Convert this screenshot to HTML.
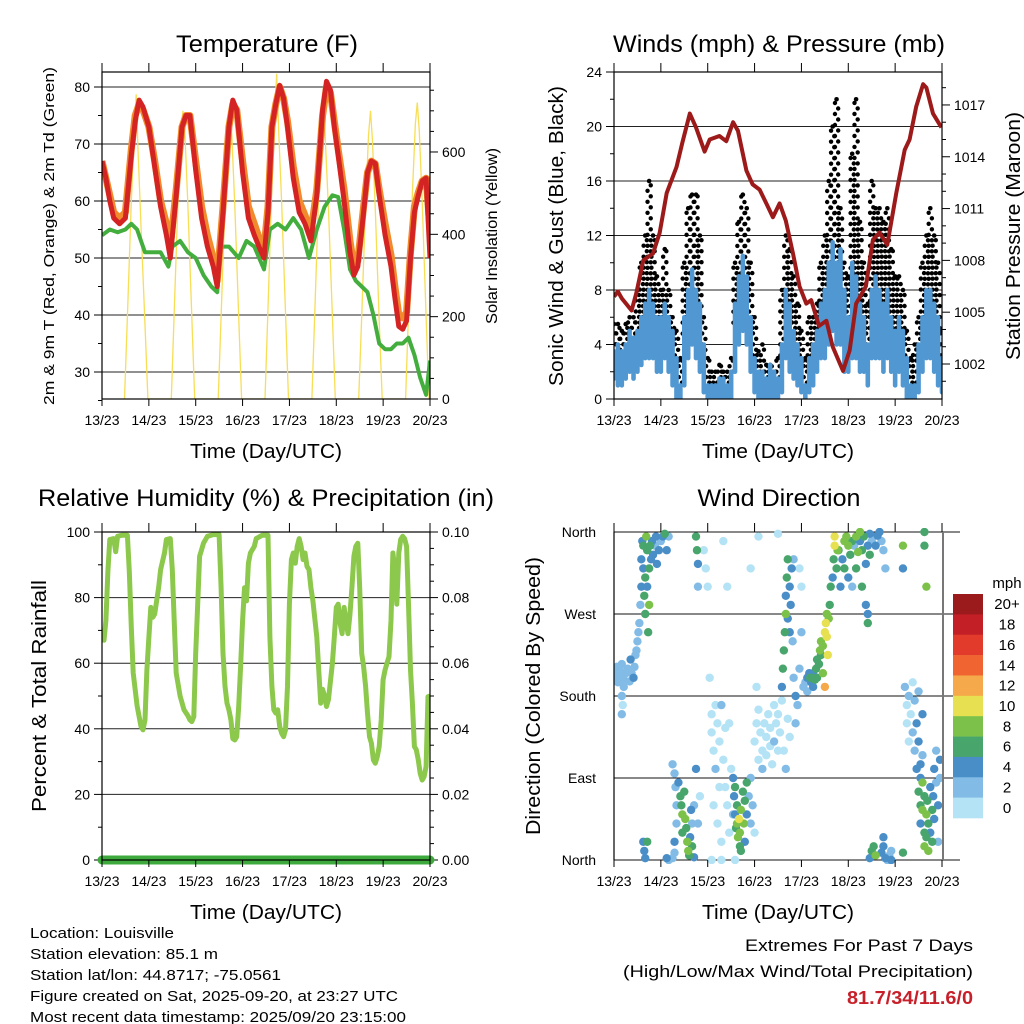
<!DOCTYPE html>
<html><head><meta charset="utf-8"><style>
html,body{margin:0;padding:0;background:#fff;}
svg{display:block;font-family:"Liberation Sans",Arial,sans-serif;}
</style></head><body>
<svg id="chart" width="1024" height="1024" viewBox="0 0 1024 1024" xmlns="http://www.w3.org/2000/svg">
<defs>
<clipPath id="c1"><rect x="102" y="72" width="328" height="327"/></clipPath>
<clipPath id="c2"><rect x="614" y="72" width="328" height="327"/></clipPath>
<clipPath id="c3"><rect x="102" y="532" width="328" height="334"/></clipPath>
<clipPath id="c4"><rect x="614" y="528" width="330" height="336"/></clipPath>
</defs>
<g id="p1"></g>
<g id="p2"></g>
<g id="p3"></g>
<g id="p4"></g>
<g id="txt">
<text x="267" y="52" font-size="24" text-anchor="middle" textLength="182" lengthAdjust="spacingAndGlyphs">Temperature (F)</text>
<text x="779" y="52" font-size="24" text-anchor="middle" textLength="332" lengthAdjust="spacingAndGlyphs">Winds (mph) &amp; Pressure (mb)</text>
<text x="266" y="506" font-size="24" text-anchor="middle" textLength="456" lengthAdjust="spacingAndGlyphs">Relative Humidity (%) &amp; Precipitation (in)</text>
<text x="779" y="506" font-size="24" text-anchor="middle" textLength="163" lengthAdjust="spacingAndGlyphs">Wind Direction</text>
<text x="266" y="458" font-size="20" text-anchor="middle" textLength="152" lengthAdjust="spacingAndGlyphs">Time (Day/UTC)</text>
<text x="778" y="458" font-size="20" text-anchor="middle" textLength="152" lengthAdjust="spacingAndGlyphs">Time (Day/UTC)</text>
<text x="266" y="919" font-size="20" text-anchor="middle" textLength="152" lengthAdjust="spacingAndGlyphs">Time (Day/UTC)</text>
<text x="778" y="919" font-size="20" text-anchor="middle" textLength="152" lengthAdjust="spacingAndGlyphs">Time (Day/UTC)</text>
<text transform="translate(54,236) rotate(-90)" font-size="15" text-anchor="middle" textLength="338" lengthAdjust="spacingAndGlyphs">2m &amp; 9m T (Red, Orange) &amp; 2m Td (Green)</text>
<text transform="translate(497,236) rotate(-90)" font-size="16" text-anchor="middle" textLength="176" lengthAdjust="spacingAndGlyphs">Solar Insolation (Yellow)</text>
<text transform="translate(563,236) rotate(-90)" font-size="20" text-anchor="middle" textLength="300" lengthAdjust="spacingAndGlyphs">Sonic Wind &amp; Gust (Blue, Black)</text>
<text transform="translate(1020,236) rotate(-90)" font-size="20" text-anchor="middle" textLength="248" lengthAdjust="spacingAndGlyphs">Station Pressure (Maroon)</text>
<text transform="translate(46,696) rotate(-90)" font-size="20" text-anchor="middle" textLength="232" lengthAdjust="spacingAndGlyphs">Percent &amp; Total Rainfall</text>
<text transform="translate(540,696) rotate(-90)" font-size="20" text-anchor="middle" textLength="278" lengthAdjust="spacingAndGlyphs">Direction (Colored By Speed)</text>
<g font-size="15">
<text x="30" y="938" textLength="144" lengthAdjust="spacingAndGlyphs">Location: Louisville</text>
<text x="30" y="959" textLength="188" lengthAdjust="spacingAndGlyphs">Station elevation: 85.1 m</text>
<text x="30" y="980" textLength="251" lengthAdjust="spacingAndGlyphs">Station lat/lon: 44.8717; -75.0561</text>
<text x="30" y="1001" textLength="368" lengthAdjust="spacingAndGlyphs">Figure created on Sat, 2025-09-20, at 23:27 UTC</text>
<text x="30" y="1022" textLength="376" lengthAdjust="spacingAndGlyphs">Most recent data timestamp: 2025/09/20 23:15:00</text>
</g>
<text x="973" y="951" font-size="17" text-anchor="end" textLength="228" lengthAdjust="spacingAndGlyphs">Extremes For Past 7 Days</text>
<text x="973" y="977" font-size="17" text-anchor="end" textLength="350" lengthAdjust="spacingAndGlyphs">(High/Low/Max Wind/Total Precipitation)</text>
<text x="973" y="1004" font-size="18" font-weight="bold" fill="#c8202a" text-anchor="end" textLength="126" lengthAdjust="spacingAndGlyphs">81.7/34/11.6/0</text>
</g>
</svg>
<script>
// ---------- data ----------
const dayLabels = ["13/23","14/23","15/23","16/23","17/23","18/23","19/23","20/23"];
const tHours = [0,2,4,6,9,12,15,17,19,21,24,27,30,33,35,38,41,43,45,48,51,54,57,59,62,65,67,69,72,75,78,81,83,85,87,89,91,93,95,98,101,104,107,110,113,115,117,119,121,124,127,129,131,134,136,138,140,142,145,148,150,152,154,156,158,160,162,164,166,168];
const tempRed = [67,64,60,57,56,57,68,74,77.7,76.5,73,66,59,54,50,61,73,75,75,65.4,57,52,48.5,45,58,73,77.7,76,65,57,54,51.5,50,58,73,77,80.3,78,73,64,58,56,53,61,76,81,79.5,73,68,60,51,47,48.5,58,65,67,66.6,61,54,48.5,43,38,37.5,39,50,58,61,63.5,64,50];
const tempOrange = [67,64,61,58,57,58,69,75,77,76,73,67,60,56,52,62,73,75,75,67,59,54,50,46,59,73,77,76,67,59,56,53,51.5,59,73,77,80,78,74,66,60,57.5,54.5,62,75,80,79,74,69,62,53,48.5,49.5,59,65,67,66.5,62,56,50.5,45,40,39.5,40.5,51,59,61.5,63.5,64,55];
const tdHours = [0,4,8,12,15,18,20,22,26,30,34,36,40,44,48,52,56,59,61,65,70,74,78,83,86,90,94,98,102,106,110,114,118,121,124,127,130,133,136,139,142,145,148,151,154,157,160,163,166,168];
const dewpoint = [54,55,54.5,55,56,55,53,51,51,51,48.5,52,53,51,50,47,45,44,52,52,50,53,52,48,55,56,55,57,55,50,55,59,61,60.7,55,48,46,45,44,40,35,34,34,35,35,36,33,29,26,32];
const solarHours = [11.5,13,15,16.5,17.5,18.5,20,22,23.5, 35.5,37,39,40.5,41.5,42.5,44,46,47.5, 59.5,61,63,64.5,65.5,66.5,68,70,71.5, 83.5,85,87,88.5,89.5,90.5,92,94,95.5, 107.5,109,111,112.5,113.5,114.5,116,118,119.5, 131.5,133,135,136.5,137.5,138.5,140,142,143.5, 155.5,157,159,160.5,161.5,162.5,164,166,167.5];
const solarVals = [0,200,480,650,740,600,420,180,0, 0,210,490,660,700,640,470,200,0, 0,200,480,650,700,640,470,200,0, 0,220,520,700,790,650,480,210,0, 0,210,500,690,760,620,460,200,0, 0,200,470,640,700,630,460,190,0, 0,210,500,670,720,650,480,200,0];
const windHi = [3.5,4,3.5,4,5,4.5,5,6,7,8, 7,6,6,7,6,5,3,1,6,8, 9.5,8,7,4,1,1,1,1.5,1.5,1, 2,7,9,10.5,9,6,3,2,2,1.5, 2.5,2,1.5,4,8,7,5,4,3,1, 3,4,5,7,8,10,11.5,10,11,8, 6,10,9,7,6,4,8,9,8,7, 8,6,5,6,5,3,1,1,4,6, 8,8,7,6,3];
const windLo = [1.5,1,1,1.5,2,1.5,2,2.5,3,3, 3,2,2,3,2,1,0,0,1,3, 4,3,2,0.5,0,0,0,0,0,0, 0,2,4,5,4,2,0.5,0,0,0, 0,0,0,0.5,3,2,1.5,1,0.5,0, 0.5,1,2,3,3,4,5,4,4,2, 2,3,3,2,2,1,3,3,3,2, 3,2,1,2,1,0,0,0,0.5,2, 3,3,2,1,0.5];
const gustHi = [5.5,5.5,5,5.5,6,6,8,10,12,16, 12,9,8,11,8,6,5,3,10,14, 15,15,12,6,3,2,2,2.5,2,2, 3,10,13,15,14,10,6,3.5,4,2.5, 2.5,2,3,8,12,11,9,7,5,3, 6,6,7,10,12,16,20,22,14,10, 9,18,22,13,10,7,16,14,14,13, 14,11,9,9,8,5,3,4,6,10, 12,14,12,10,5];
const presHours = [0,2,4,9,11.4,15,20,23.4,27,32,35,38.8,42,46.4,49,54,57.5,61,63.5,67.8,71,74.6,78,81.4,84.8,88,91.7,95,98.5,101,105,108.8,112,117.3,120.7,124,129,132.6,136,140,144.6,148.9,151.4,154.8,158.3,160,163.4,167.7];
const pressure = [1005.9,1006.2,1005.8,1005.1,1006.1,1008,1008.4,1009.6,1011.9,1013.4,1014.8,1016.5,1015.7,1014.3,1015,1015.2,1014.9,1016,1015.5,1013.2,1012.4,1012.1,1011.3,1010.5,1011.3,1010.3,1008.4,1006.5,1005.5,1005.7,1004.2,1004.5,1003,1001.6,1002.8,1005.5,1006.5,1009.2,1009.6,1008.9,1011.9,1014.4,1015,1016.9,1018.2,1018,1016.5,1015.7];
const rhHours = [0,1,2,3,4,6,7,8,10,13,14,15,16,18,20,21,22,23,24,25,26,27,29,30,32,33,35,36,37,38,40,42,44,45,46,47,48,49,50,51,52,54,57,60,61,62,63,64,65,66,67,68,69,70,71,72,73,74,75,76,78,79,82,85,86,87,88,89,90,91,92,93,94,95,96,97,98,99,100,101,102,103,104,105,106,107,108,110,112,113,114,115,116,118,119,120,121,122,123,124,125,126,127,128,129,130,131,132,133,134,135,136,137,138,139,140,141,142,143,144,145,146,147,148,149,150,151,152,153,154,155,156,157,158,159,160,161,162,163,164,165,166,167,168];
const rhVals = [69,67,73,88,97.7,98,94,98.7,99,99,88,71,57,47,40.7,39.7,42.7,58,68,77,74,75,83,88.5,93.6,97.7,98,88.5,73,57,50,45.8,44,42.7,42.2,43.7,63,78,92.6,94.6,96.6,98.7,99.2,99.2,83,63,53,47.8,45.8,42.7,37,36.6,37.6,46.8,59,73,83,79,90.5,93.6,95.6,98,99,99,68,53,45.8,44.8,45.8,40.7,38.7,37.6,39.7,53,78,91.6,93.6,90.5,95.6,98,95.6,91.6,93.6,89.5,88.5,83,79,68,47.8,52,50,46.8,49,60,68,77,78,72,69,77,73,69,75,83,92.6,95.6,96.6,83,63,59,53,44.8,37.6,35.6,30.5,29.5,31.5,34.6,42.7,55,58,60,62,73,93.6,88.5,78,93.6,97.7,98.7,98,95.6,78,58,47.8,34.6,33.6,30.5,26.4,24.4,25.4,28.5,49.8,50];
const precipHours = [0,168];
const precipVals = [0,0];
const dirPoints = [[0,205,2],[1,200,3],[1.5,212,2],[2,195,2],[3,208,2],[3.5,200,3],[4,215,2],[5,198,2],[5,190,2],[6,205,3],[7,210,2],[8,196,3],[8.5,220,4],[9,205,3],[10,200,4],[10.5,212,3],[11,225,3],[11.5,230,3],[4,180,2],[4.5,170,1],[4,160,2],[12,240,2],[12.5,250,2],
[13,260,2],[13.5,280,3],[14,300,4],[14,330,4],[14.5,350,5],[15,345,6],[15,320,4],[15.5,290,7],[16,270,6],[16,310,7],[16.5,355,8],[17,340,6],[17,300,5],[17.5,250,7],[18,280,8],[18,320,6],[18.5,345,7],[19,330,5],[19.5,350,4],[20,335,5],[21,345,3],[21.5,355,4],[22,325,4],[23,340,4],[24,350,3],[25,355,5],[26,358,6],[27,340,4],[28,355,3],
[15,20,4],[15.5,10,4],[17,20,6],[16,2,5],[27,2,4],[28,0,2],[30,2,3],[31,8,3],[31,20,4],
[30,105,2],[31,95,2],[31.5,80,2],[32,60,3],[32,40,3],[33,85,4],[34,70,6],[34.5,60,7],[35,50,8],[35,30,6],[36,75,6],[36.5,45,8],[37,35,7],[37.5,20,8],[38,10,8],[38.5,5,7],[39,25,4],[39.5,55,4],[40,40,3],[40,15,6],[41,60,3],[41,3,4],[42,100,4],[43,40,2],[44,70,1],[42,355,6],[42.5,340,6],[43,325,4],[43,300,2],
[46,340,0],[47,320,0],[48,300,0],[49,200,0],[50,160,0],[50,140,1],[51,120,0],[51,60,1],[52,170,1],[52,100,2],[53,150,0],[53,40,1],[54,130,0],[54,80,0],[55,170,2],[55,20,1],[56,110,1],[56,350,0],[57,145,0],[57,80,1],[58,60,1],[58,300,0],[59,150,0],[59,30,0],[60,100,1],[61,50,2],[62,0,0],[50,0,0],[55,0,0],
[61,90,4],[61.5,70,5],[62,80,6],[62,50,4],[62.5,35,6],[63,60,7],[63,40,8],[63.5,25,9],[64,45,10],[64.5,30,8],[64.5,15,7],[65,55,8],[65,10,7],[66,75,6],[66.5,40,8],[67,65,7],[67,20,5],[68,85,6],[68,50,4],[69,70,3],[70,90,2],[70,40,3],[71,60,2],[72,30,1],
[72,130,0],[73,150,1],[74,110,0],[74,165,0],[75,140,1],[76,120,0],[76,100,2],[77,150,0],[78,135,1],[78,115,0],[79,160,1],[80,125,0],[80,145,0],[81,105,1],[82,170,0],[82,130,2],[83,150,0],[84,120,1],[84,160,0],[85,140,1],[86,175,1],[87,120,1],[88,100,2],[89,155,1],[90,135,1],[74,355,0],[84,358,0],[73,190,0],[70,320,0],
[86,190,4],[86.5,210,6],[87,230,7],[87.5,250,6],[88,270,8],[88,290,5],[88.5,310,6],[89,330,7],[89,265,4],[90,250,4],[90,300,4],[90.5,280,5],[91,320,4],[91.5,240,3],[92,330,2],[92,200,2],[93,180,4],[93,150,2],[94,170,2],[95,210,2],[95,320,1],[96,250,2],[96,300,1],
[97,190,3],[98,195,3],[99,200,4],[99,185,2],[100,205,5],[100.5,200,6],[101,195,5],[101.5,200,6],[102,205,5],[102,190,4],[103,198,6],[103.5,210,6],[104,220,7],[104,200,6],[105,215,7],[105.5,230,8],[106,225,7],[106,240,8],[107,205,9],[107,235,8],[108,190,12],[108,250,10],[108.5,260,10],[109,245,10],[109,270,8],[109.5,225,11],[110,265,8],[110.5,280,6],[111,300,6],[112,310,4],[112.5,330,6],[113,345,10],[113,355,10],[114,320,6],[114.5,340,8],
[115,340,6],[116,300,4],[117,330,4],[118,350,8],[118,320,6],[119,355,8],[120,345,8],[120,310,4],[121,335,6],[122,350,6],[122,300,2],[123,345,3],[124,355,8],[124,320,6],[125,338,8],[126,350,4],[126,360,8],[127,340,6],[127,300,6],[128,355,6],[129,325,5],[129,280,4],[130,345,4],[131,358,4],[131,335,6],[132,350,2],[133,355,3],[134,345,4],[135,356,4],[136,360,4],[137,350,3],[138,340,2],[139,320,2],[130,270,5],[130,260,7],
[131,2,5],[132,10,6],[133,15,7],[134,5,8],[137,8,4],[138,25,4],[138,15,4],[139,2,4],[140,0,2],[141,5,2],[142,10,2],[142,0,4],[148,8,6],[148,345,8],[148,320,4],
[149,190,2],[150,170,1],[150,150,1],[151,180,2],[151,130,1],[152,160,1],[153,195,1],[153,140,2],[154,175,2],[154,120,2],[155,150,4],[155,100,4],[156,130,4],[156,185,2],[157,105,4],[157,90,4],[158,160,4],[158,115,2],
[156,75,6],[157,60,6],[157,40,4],[158,85,8],[158,55,8],[159,70,6],[159,30,7],[159,15,8],[160,50,8],[160,25,6],[160.5,65,6],[161,40,7],[161,10,8],[162,80,4],[162,30,4],[163,55,6],[163,20,6],[163.5,70,4],[164,45,4],[164,100,4],[165,85,2],[165,120,2],[166,60,4],[166,20,2],[167,110,4],[167,90,2],[159,360,6],[159,345,6],[160,300,8]];
const speedLabels = ["0","2","4","6","8","10","12","14","16","18","20+"];
const speedColors = ["#b5e3f6","#82bce6","#4a8ec8","#48a56c","#7cc24a","#e7e050","#f5a94a","#ef6431","#e33b2b","#c31f26","#9b1a1c"];

// ---------- helpers ----------
const NS = "http://www.w3.org/2000/svg";
function mk(parent, tag, attrs) {
  const e = document.createElementNS(NS, tag);
  for (const k in attrs) e.setAttribute(k, attrs[k]);
  parent.appendChild(e);
  return e;
}
function xs(p, h) { return p.x0 + h / 168 * (p.x1 - p.x0); }
function pathFrom(xArr, yArr, fx, fy) {
  return xArr.map((h, i) => (i ? "L" : "M") + fx(h).toFixed(1) + "," + fy(yArr[i]).toFixed(1)).join("");
}
function frame(g, p, topTicks) {
  const r = mk(g, "rect", {x: p.x0, y: p.y0, width: p.x1 - p.x0, height: p.y1 - p.y0, fill: "none", stroke: "#000", "stroke-width": 1.2});
  
  
  dayLabels.forEach((lab, i) => {
    const x = xs(p, i * 24);
    const t1 = mk(g, "line", {x1: x, x2: x, y1: p.y1, y2: p.y1 + 7, stroke: "#000", "stroke-width": 1});
    
    
    if (topTicks) {
      const t2 = mk(g, "line", {x1: x, x2: x, y1: p.y0, y2: p.y0 - 9, stroke: "#000", "stroke-width": 1});
      
      
    }
    const tx = mk(g, "text", {x: x, y: p.y1 + 26, "font-size": 14, "text-anchor": "middle"});
    tx.textContent = lab;
    
    
  });
}
function yAxis(g, p, vals, fy, labels, side, grid, minorVals) {
  vals.forEach((v, i) => {
    const y = fy(v);
    if (grid) {
      const gl = mk(g, "line", {x1: p.x0, x2: p.x1, y1: y, y2: y, stroke: "#222", "stroke-width": 1});
      
      
    }
    const x = side === "left" ? p.x0 : p.x1;
    const d = side === "left" ? -8 : 8;
    const tk = mk(g, "line", {x1: x, x2: x + d, y1: y, y2: y, stroke: "#000", "stroke-width": 1});
    
    
    const tx = mk(g, "text", {x: side === "left" ? p.x0 - 12 : p.x1 + 12, y: y + 5, "font-size": 14, "text-anchor": side === "left" ? "end" : "start"});
    tx.textContent = labels[i];
    
    
  });
  (minorVals || []).forEach(v => {
    const y = fy(v);
    const x = side === "left" ? p.x0 : p.x1;
    const m = mk(g, "line", {x1: x, x2: x + (side === "left" ? -4 : 4), y1: y, y2: y, stroke: "#000", "stroke-width": 1});
    
    
  });
}

// ---------- panel 1: temperature ----------
(function () {
  const g = document.getElementById("p1");
  const p = {x0: 102, x1: 430, y0: 72, y1: 399};
  const fy = t => 372 - (t - 30) * 5.7;
  const fs = v => 399 - v * 0.4117;
  const fx = h => xs(p, h);
  yAxis(g, p, [30,40,50,60,70,80], fy, ["30","40","50","60","70","80"], "left", true, [25,35,45,55,65,75]);
  yAxis(g, p, [0,200,400,600], fs, ["0","200","400","600"], "right", false, [50,100,150,250,300,350,450,500,550,650,700,750]);
  const c = mk(g, "g", {"clip-path": "url(#c1)"});
  
  
  const sol = mk(c, "path", {d: pathFrom(solarHours, solarVals, fx, fs), fill: "none", stroke: "#f7de55", "stroke-width": 1.3});
  
  
  const td = mk(c, "path", {d: pathFrom(tdHours, dewpoint, fx, fy), fill: "none", stroke: "#43ad3e", "stroke-width": 4, "stroke-linejoin": "round"});
  
  
  const o = mk(c, "path", {d: pathFrom(tHours, tempOrange, fx, fy), fill: "none", stroke: "#f08a2c", "stroke-width": 7, "stroke-linejoin": "round"});
  
  
  const r = mk(c, "path", {d: pathFrom(tHours, tempRed, fx, fy), fill: "none", stroke: "#d42323", "stroke-width": 5, "stroke-linejoin": "round"});
  
  
  frame(g, p, true);
})();

// ---------- panel 2: winds & pressure ----------
(function () {
  const g = document.getElementById("p2");
  const p = {x0: 614, x1: 942, y0: 72, y1: 399};
  const fw = w => 399 - w * 13.625;
  const fp = v => 364 - (v - 1002) * 17.27;
  const fx = h => xs(p, h);
  yAxis(g, p, [0,4,8,12,16,20,24], fw, ["0","4","8","12","16","20","24"], "left", true, [2,6,10,14,18,22]);
  yAxis(g, p, [1002,1005,1008,1011,1014,1017], fp, ["1002","1005","1008","1011","1014","1017"], "right", false, [1001,1003,1004,1006,1007,1009,1010,1012,1013,1015,1016,1018]);
  const c = mk(g, "g", {"clip-path": "url(#c2)"});
  
  
  const windHours = windHi.map((_, i) => i * 2);
  windHours.forEach((h, i) => {
    const x = fx(h);
    const yTop = fw(gustHi[i]), yBot = fw(windHi[i] * 0.8);
    let k = 0;
    for (let y = yBot; y >= yTop - 0.1; y -= 5.5) {
      const d = mk(c, "circle", {cx: x + ((k++ % 2) ? 1.6 : -1.6), cy: y, r: 2.2, fill: "#000"});
      
      
    }
    const top = mk(c, "circle", {cx: x, cy: yTop, r: 2.3, fill: "#000"});
    
    
  });
  windHours.forEach((h, i) => {
    const x = fx(h);
    const b = mk(c, "line", {x1: x, x2: x, y1: fw(windLo[i]), y2: fw(windHi[i]), stroke: "#5198d2", "stroke-width": 4.6, "stroke-linecap": "round"});
    
    
  });
  const pr = mk(c, "path", {d: pathFrom(presHours, pressure, fx, fp), fill: "none", stroke: "#9d1a1a", "stroke-width": 4, "stroke-linejoin": "round"});
  
  
  frame(g, p, true);
})();

// ---------- panel 3: humidity ----------
(function () {
  const g = document.getElementById("p3");
  const p = {x0: 102, x1: 430, y0: 532, y1: 860};
  const fr = v => 860 - v * 3.28;
  const fi = v => 860 - v * 3280;
  const fx = h => xs(p, h);
  yAxis(g, p, [0,20,40,60,80,100], fr, ["0","20","40","60","80","100"], "left", true, [10,30,50,70,90]);
  yAxis(g, p, [0,0.02,0.04,0.06,0.08,0.10], fi, ["0.00","0.02","0.04","0.06","0.08","0.10"], "right", false, [0.005,0.01,0.015,0.025,0.03,0.035,0.045,0.05,0.055,0.065,0.07,0.075,0.085,0.09,0.095]);
  const c = mk(g, "g", {"clip-path": "url(#c3)"});
  
  
  const rh = mk(c, "path", {d: pathFrom(rhHours, rhVals, fx, fr), fill: "none", stroke: "#8cc84b", "stroke-width": 5, "stroke-linejoin": "round"});
  
  
  const pc = mk(g, "path", {d: pathFrom(precipHours, precipVals, fx, fi), fill: "none", stroke: "#3eaa3d", "stroke-width": 9, "stroke-linecap": "round"});
  
  
  frame(g, p, true);
})();

// ---------- panel 4: wind direction ----------
(function () {
  const g = document.getElementById("p4");
  const p = {x0: 614, x1: 942, y0: 532, y1: 860};
  const fd = d => 860 - d / 360 * 328;
  const fx = h => xs(p, h);
  [0,90,180,270,360].forEach((d, i) => {
    const y = fd(d);
    const gl = mk(g, "line", {x1: p.x0, x2: p.x1 + 18, y1: y, y2: y, stroke: "#111", "stroke-width": 1});
    
    
    const tx = mk(g, "text", {x: p.x0 - 18, y: y + 5, "font-size": 14, "text-anchor": "end"});
    tx.textContent = ["North","East","South","West","North"][i];
    
    
  });
  const c = mk(g, "g", {"clip-path": "url(#c4)"});
  
  
  const sorted = dirPoints.slice().sort((a, b) => a[2] - b[2]);
  sorted.forEach(pt => {
    const idx = Math.min(10, Math.floor(pt[2] / 2));
    const d = mk(c, "circle", {cx: fx(pt[0]), cy: fd(pt[1]), r: 4.2, fill: speedColors[idx]});
    
    
  });
  const ax = mk(g, "line", {x1: p.x0, x2: p.x0, y1: p.y0, y2: p.y1, stroke: "#000", "stroke-width": 1.2});
  
  
  const ax2 = mk(g, "line", {x1: p.x1 + 1, x2: p.x1 + 1, y1: p.y0, y2: p.y1, stroke: "#777", "stroke-width": 2});
  
  
  dayLabels.forEach((lab, i) => {
    const x = xs(p, i * 24);
    const t1 = mk(g, "line", {x1: x, x2: x, y1: p.y1, y2: p.y1 + 7, stroke: "#000"});
    
    
    const t2 = mk(g, "line", {x1: x, x2: x, y1: p.y0, y2: p.y0 - 9, stroke: "#000"});
    
    
    const tx = mk(g, "text", {x: x, y: p.y1 + 26, "font-size": 14, "text-anchor": "middle"});
    tx.textContent = lab;
    
    
  });
  // legend
  const lg = mk(g, "g", {});
  
  
  const mph = mk(lg, "text", {x: 1007, y: 588, "font-size": 15, "text-anchor": "middle"});
  mph.textContent = "mph";
  
  
  const bh = 224 / 11;
  for (let i = 0; i < 11; i++) {
    const k = 10 - i;
    const y = 594 + i * bh;
    const rr = mk(lg, "rect", {x: 953, y: y, width: 30, height: bh + 0.3, fill: speedColors[k]});
    
    
    const tt = mk(lg, "text", {x: 1007, y: y + bh / 2 + 5, "font-size": 15, "text-anchor": "middle"});
    tt.textContent = speedLabels[k];
    
    
  }
})();
</script>
</body></html>
